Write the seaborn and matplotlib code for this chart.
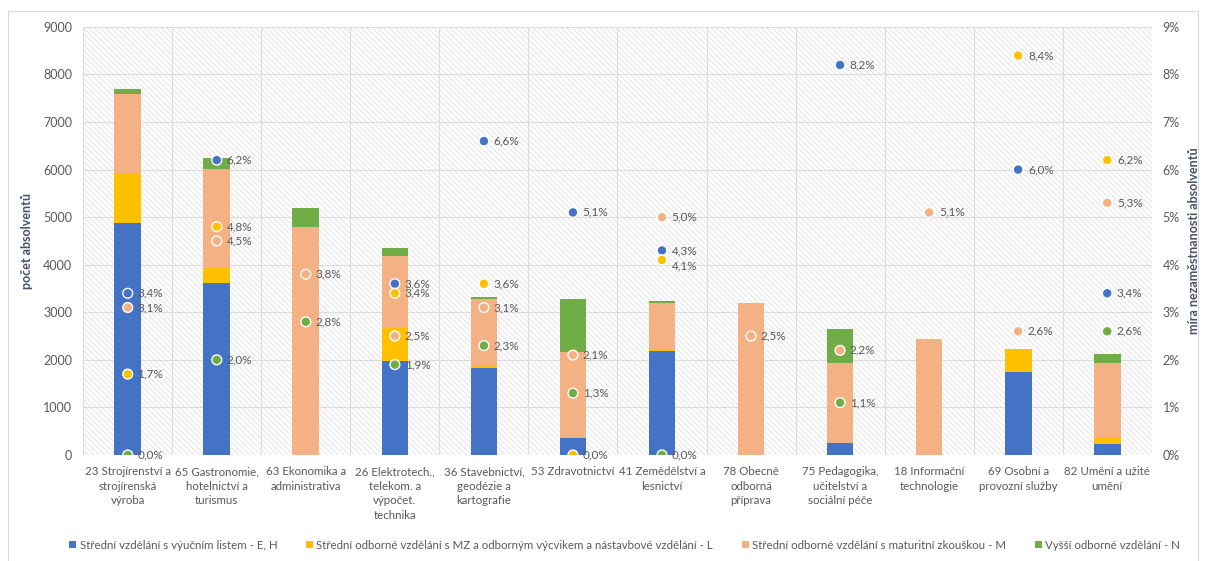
import numpy as np
import pandas as pd
import matplotlib
matplotlib.use("Agg")
import matplotlib.pyplot as plt
import seaborn as sns
from matplotlib.patches import Patch, Rectangle

# --- data ---
categories = [
    "23 Strojírenství a\nstrojírenská\nvýroba",
    "65 Gastronomie,\nhotelnictví a\nturismus",
    "63 Ekonomika a\nadministrativa",
    "26 Elektrotech.,\ntelekom. a\nvýpočet.\ntechnika",
    "36 Stavebnictví,\ngeodézie a\nkartografie",
    "53 Zdravotnictví",
    "41 Zemědělství a\nlesnictví",
    "78 Obecně\nodborná\npříprava",
    "75 Pedagogika,\nučitelství a\nsociální péče",
    "18 Informační\ntechnologie",
    "69 Osobní a\nprovozní služby",
    "82 Umění a užité\numění",
]

# number of graduates per level
grads_eh = [4870, 3610, 0, 1980, 1830, 360, 2180, 0, 250, 0, 1750, 230]
grads_l = [1050, 320, 0, 710, 60, 0, 30, 0, 0, 0, 480, 150]
grads_m = [1660, 2080, 4790, 1490, 1390, 1800, 980, 3200, 1680, 2440, 0, 1550]
grads_n = [110, 230, 400, 170, 40, 1120, 50, 0, 720, 0, 0, 190]

# unemployment rate (%) per level, None = no point
rate_eh = [3.4, 6.2, None, 3.6, 6.6, 5.1, 4.3, None, 8.2, None, 6.0, 3.4]
rate_l = [1.7, 4.8, None, 3.4, 3.6, 0.0, 4.1, None, None, None, 8.4, 6.2]
rate_m = [3.1, 4.5, 3.8, 2.5, 3.1, 2.1, 5.0, 2.5, 2.2, 5.1, 2.6, 5.3]
rate_n = [0.0, 2.0, 2.8, 1.9, 2.3, 1.3, 0.0, None, 1.1, None, None, 2.6]

series_names = [
    "Střední vzdělání s výučním listem - E, H",
    "Střední odborné vzdělání s MZ a odborným výcvikem a nástavbové vzdělání - L",
    "Střední odborné vzdělání s maturitní zkouškou - M",
    "Vyšší odborné vzdělání - N",
]
colors = ["#4472C4", "#FFC000", "#F4B183", "#70AD47"]

sns.set_theme(style="white")
plt.rcParams["font.family"] = ["Lato", "DejaVu Sans"]
plt.rcParams["hatch.linewidth"] = 0.5
TXT = "#595959"

fig = plt.figure(figsize=(12.06, 5.61), dpi=100)
ax = fig.add_axes([0.069, 0.189, 0.886, 0.763])

# hatched plot background
ax.add_patch(Rectangle((0, 0), 1, 1, transform=ax.transAxes, facecolor="white",
                       edgecolor="#DADADA", linewidth=0, hatch="\\\\\\\\\\\\", zorder=0))

# stacked bars: draw cumulative totals from the top down
levels = np.array([grads_eh, grads_l, grads_m, grads_n])
cum = levels.cumsum(axis=0)
for i in range(3, -1, -1):
    sns.barplot(x=categories, y=cum[i], color=colors[i], saturation=1, width=0.3,
                linewidth=0, ax=ax, zorder=2)

ax.set_ylim(0, 9000)
ax.set_yticks(range(0, 9001, 1000))
ax.set_xlim(-0.5, len(categories) - 0.5)
ax.set_xticks(np.arange(-0.5, len(categories), 1), minor=True)
ax.grid(False)
ax.grid(True, axis="y", which="major", color="#DCDCDC", linewidth=0.8, zorder=1)
ax.grid(True, axis="x", which="minor", color="#DCDCDC", linewidth=0.8, zorder=1)
ax.set_axisbelow(True)
for s in ax.spines.values():
    s.set_visible(False)
ax.tick_params(axis="both", which="both", length=0, colors=TXT, labelsize=9)
ax.tick_params(axis="y", pad=8)
ax.tick_params(axis="x", pad=8, labelsize=8.3)
for lab in ax.get_xticklabels():
    lab.set_linespacing(1.4)
ax.set_ylabel("počet absolventů", color="#44546A", fontsize=9, fontweight="bold", labelpad=7)
ax.set_xlabel("")

# unemployment rates on secondary axis
ax2 = ax.twinx()
rates = [rate_eh, rate_l, rate_m, rate_n]
rows = []
for name, vals in zip(series_names, rates):
    for pos, v in enumerate(vals):
        if v is not None:
            rows.append({"pos": pos, "rate": v, "series": name})
df_rates = pd.DataFrame(rows)

sns.scatterplot(data=df_rates, x="pos", y="rate", hue="series", hue_order=series_names,
                palette=colors, s=50, edgecolor="white", linewidth=1.0, legend=False,
                ax=ax2, zorder=4)

for _, r in df_rates.iterrows():
    dy = -4 if (r["pos"] == 6 and r["series"] == series_names[1]) else 0
    ax2.annotate(f"{r['rate']:.1f}%".replace(".", ","), (r["pos"], r["rate"]),
                 xytext=(7, dy), textcoords="offset points", va="center",
                 fontsize=8.5, color=TXT)

ax2.set_ylim(0, 9)
ax2.set_yticks(range(0, 10))
ax2.set_yticklabels([f"{t}%" for t in range(0, 10)])
ax2.set_xlim(-0.5, len(categories) - 0.5)
ax2.grid(False)
for s in ax2.spines.values():
    s.set_visible(False)
ax2.tick_params(axis="y", length=0, colors=TXT, labelsize=9, pad=8)
ax2.set_ylabel("míra nezaměstnanosti absolventů", color="#44546A", fontsize=9,
               fontweight="bold", labelpad=6)
ax2.set_xlabel("")

# legend
handles = [Patch(facecolor=c, edgecolor="none") for c in colors]
leg = fig.legend(handles, series_names, loc="lower center", ncol=4,
                 bbox_to_anchor=(0.518, 0.0), frameon=False, fontsize=8.3,
                 handlelength=0.6, handleheight=0.6, handletextpad=0.3,
                 columnspacing=2.5)
for t in leg.get_texts():
    t.set_color(TXT)

# outer chart border
fig.add_artist(Rectangle((0.0066, -0.01), 0.987, 0.99, transform=fig.transFigure,
                         fill=False, edgecolor="#D9D9D9", linewidth=0.8))

fig.savefig("out.png", dpi=100)
